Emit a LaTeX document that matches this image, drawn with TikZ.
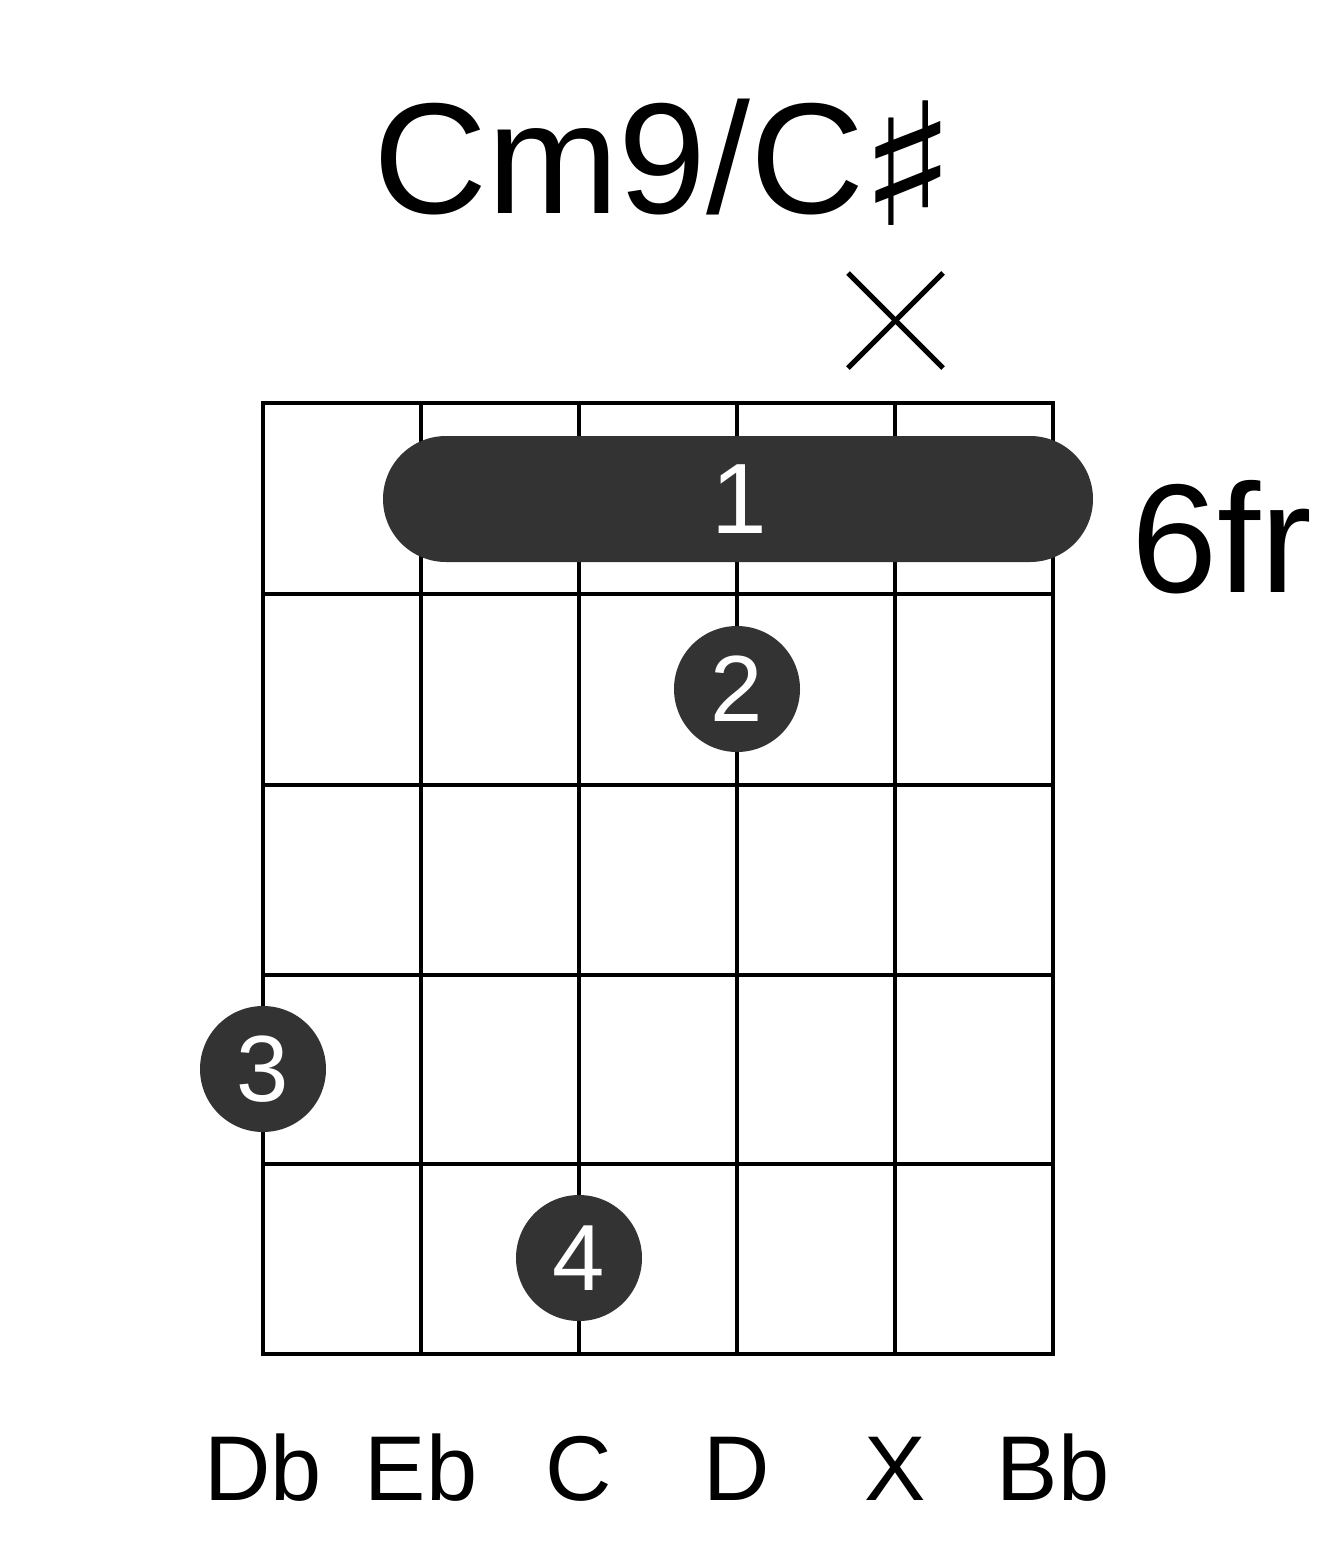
\documentclass[tikz,border=0pt]{standalone}
\usepackage{fontspec}
\setmainfont{Liberation Sans}
\newfontfamily\symfont{DejaVu Sans}
\definecolor{dotgray}{HTML}{333333}
\begin{document}
\begin{tikzpicture}[x=1pt,y=-1pt,
  gridline/.style={line width=4pt,black},
  fingerdot/.style={circle,fill=dotgray,minimum size=126pt,inner sep=0pt,text=white,font=\fontsize{94}{94}\selectfont},
  stringlabel/.style={anchor=base,font=\fontsize{92}{92}\selectfont},
  mutemark/.style={line width=5pt,black}]
\useasboundingbox (0,0) rectangle (1317,1551);
% grid
\foreach \i/\x in {1/263,2/421,3/579,4/737,5/895,6/1053} {
  \coordinate (s\i top) at (\x,403);
  \coordinate (s\i bot) at (\x,1354);
  \draw[gridline] (s\i top) -- (s\i bot);
}
\foreach \j/\y in {0/403,1/594,2/785,3/975,4/1164,5/1354} {
  \coordinate (f\j l) at (263,\y);
  \coordinate (f\j r) at (1053,\y);
  \draw[gridline,line cap=rect] (f\j l) -- (f\j r);
}
% title
\node[anchor=base west,inner sep=0pt] (title) at (373,213) {\fontsize{158}{158}\selectfont Cm9/C\hspace{-6pt}\raisebox{-12pt}{\scalebox{1.3}[1.08]{\symfont ♯}}};
% mute mark
\coordinate (xa) at (848,273);
\coordinate (xb) at (943,368);
\coordinate (xc) at (848,368);
\coordinate (xd) at (943,273);
\draw[mutemark] (xa) -- (xb);
\draw[mutemark] (xc) -- (xd);
% barre
\fill[dotgray,rounded corners=63pt] (383,436) rectangle (1093,562);
\node[text=white,font=\fontsize{100}{100}\selectfont] (barre) at (739,499) {1};
% dots
\node[fingerdot] (d2) at (737,689) {2};
\node[fingerdot] (d3) at (263,1069) {3};
\node[fingerdot] (d4) at (579,1258) {4};
% fret label
\node[anchor=base west,font=\fontsize{155}{155}\selectfont] (fret) at (1128,592) {6fr};
% string labels
\foreach \x/\t in {263/Db,421/Eb,579/C,737/D,895/X,1053/Bb} {
  \node[stringlabel] (lab\t) at (\x,1500) {\t};
}
\end{tikzpicture}
\end{document}
